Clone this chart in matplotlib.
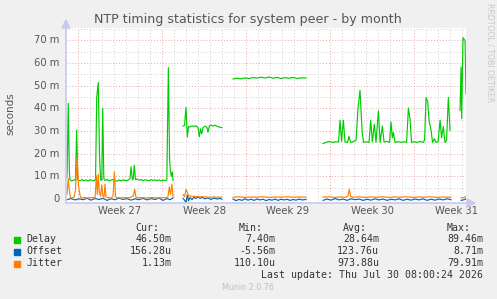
import numpy as np
import matplotlib
matplotlib.use('Agg')
import matplotlib.pyplot as plt
from matplotlib.patches import Polygon, Rectangle

# x values are days counted from the start (Monday) of week 27
# values are in milli-seconds; None marks a gap in the data

delay_x = [
    -0.92, -0.88, -0.81, -0.72, -0.67, -0.50, -0.33, -0.21, -0.11, -0.02,
    0.17, 0.33, 0.50, 0.67, 0.83, 1.00, 1.17, 1.33, 1.46, 1.56, 1.69, 1.79,
    1.88, 1.98, 2.06, 2.15, 2.25, 2.42, 2.58, 2.75, 2.92, 3.08, 3.25, 3.42,
    3.58, 3.75, 3.92, 4.08, 4.25, 4.33, 4.42, 4.53, 4.61, 4.69, 4.79, 4.92,
    5.08, 5.25, 5.42, 5.58, 5.75, 5.92, 6.08, 6.25, 6.42, 6.58, 6.75, 6.92,
    7.08, 7.25, 7.40, 7.53, 7.63, 7.69, 7.78, 7.86, 7.92, 8.3,
    8.75, 8.88, 9.00, 9.11, 9.21, 9.33, 9.50, 9.67, 9.83, 10.00, 10.11,
    10.21, 10.31, 10.42, 10.58, 10.75, 10.83, 10.96, 11.08, 11.25, 11.42,
    11.58, 11.75, 11.98, 12.4,
    12.92, 13.25, 13.58, 13.92, 14.25, 14.58, 14.92, 15.25, 15.58, 15.92,
    16.25, 16.58, 16.92, 17.25, 17.58, 17.92, 18.25, 18.58, 19.00, 19.7,
    20.42, 20.67, 20.92, 21.25, 21.50, 21.71, 21.83, 21.96, 22.11, 22.25,
    22.46, 22.58, 22.71, 22.92, 23.17, 23.33, 23.50, 23.67, 23.79, 24.00,
    24.25, 24.39, 24.53, 24.69, 24.83, 25.03, 25.17, 25.36, 25.50, 25.75,
    25.96, 26.08, 26.19, 26.28, 26.42, 26.67, 26.92, 27.17, 27.38, 27.53,
    27.67, 27.79, 28.00, 28.25, 28.50, 28.75, 28.88, 29.00, 29.14, 29.25,
    29.42, 29.54, 29.69, 29.83, 30.00, 30.17, 30.29, 30.44, 30.58, 30.71,
    30.86, 31.00, 31.4,
    31.83, 31.92, 31.97, 32.08, 32.25, 32.33,
]
delay_ms = [
    9.5, 20, 42.2, 12, 8.4, 8.0, 8.5, 8.2, 30.4, 8.5,
    8.0, 8.6, 8.1, 8.4, 7.9, 8.5, 8.2, 8.0, 8.6, 45, 51.4, 20,
    8.4, 8.3, 40, 9, 8.2, 8.6, 8.0, 8.3, 8.7, 8.2, 7.9, 8.4,
    8.0, 8.5, 8.2, 8.1, 8.6, 9, 14.2, 8.5, 9, 15, 8.6, 8.9,
    8.3, 8.6, 8.1, 8.5, 8.3, 8.0, 8.6, 8.2, 8.4, 8.1, 8.5, 8.0,
    8.3, 8.2, 8.4, 58, 18, 12.8, 10, 12, 8.2, None,
    32.2, 32.5, 40.4, 27.4, 32, 31.8, 32.3, 32.0, 32.4, 31.5, 27.5,
    31, 28.8, 31.5, 32.2, 31.6, 29.5, 32.5, 32.6, 32.2, 32.6,
    32.1, 31.8, 31.5, None,
    53.0, 53.3, 53.1, 53.5, 53.2, 53.6, 53.4, 53.8, 53.4, 53.9,
    53.3, 53.7, 53.2, 53.6, 53.3, 53.7, 53.2, 53.5, 53.4, None,
    24.5, 25.0, 25.4, 25.0, 25.3, 25.2, 34.8, 25.5, 34.8, 25.2,
    25.0, 27.7, 25.0, 25.3, 26, 40, 48, 30, 25.0, 25.3,
    25.0, 34.8, 25.2, 33, 25.0, 38.9, 25.0, 32.2, 25.2, 25.4,
    25.0, 34, 27, 29.4, 25.0, 25.3, 25.0, 25.3, 25.0, 40.2,
    35, 25.0, 25.3, 25.0, 25.4, 25.0, 26, 44.8, 42.9, 34.8,
    30.3, 25.0, 26.6, 25.0, 25.3, 34.8, 27, 32, 25.0, 26,
    44.8, 30.3, None,
    39, 58.3, 35.5, 71.2, 70, 46.5,
]

jitter_x = [
    -0.92, -0.81, -0.71, -0.62, -0.50, -0.33, -0.21, -0.08, 0.04, 0.17,
    0.25, 0.42, 0.58, 0.75, 0.92, 1.08, 1.25, 1.42, 1.53, 1.61, 1.69, 1.78,
    1.88, 1.98, 2.07, 2.17, 2.25, 2.33, 2.46, 2.63, 2.79, 2.92, 3.03, 3.13,
    3.25, 3.42, 3.58, 3.75, 3.92, 4.08, 4.25, 4.42, 4.63, 4.72, 4.83, 5.00,
    5.17, 5.33, 5.50, 5.67, 5.83, 6.00, 6.17, 6.33, 6.50, 6.67, 6.83, 7.00,
    7.17, 7.33, 7.50, 7.61, 7.71, 7.83, 7.92, 8.3,
    8.75, 8.88, 9.00, 9.11, 9.21, 9.33, 9.50, 9.67, 9.83, 10.00, 10.17,
    10.33, 10.50, 10.67, 10.83, 11.00, 11.17, 11.33, 11.50, 11.67, 11.83,
    11.98, 12.4,
    12.92, 13.42, 13.92, 14.42, 14.92, 15.42, 15.92, 16.42, 16.92, 17.42,
    17.92, 18.42, 19.00, 19.7,
    20.42, 20.92, 21.42, 21.92, 22.33, 22.50, 22.61, 22.71, 22.92, 23.42,
    23.92, 24.42, 24.92, 25.42, 25.92, 26.42, 26.92, 27.42, 27.92, 28.42,
    28.92, 29.42, 29.92, 30.42, 31.08, 31.5,
    31.92, 32.08, 32.25, 32.33,
]
jitter_ms = [
    2.0, 9.1, 3, 0.6, 0.5, 0.8, 4, 17.9, 6, 1.5,
    0.6, 0.5, 0.7, 0.4, 0.6, 0.5, 0.7, 0.5, 10.3, 2, 11, 3,
    1.2, 6.2, 1.5, 0.8, 6.6, 1, 0.5, 0.6, 0.4, 1.5, 12, 1,
    0.5, 0.6, 0.4, 0.7, 0.5, 0.6, 0.5, 0.8, 1.5, 4.4, 0.8, 0.5,
    0.7, 0.5, 0.6, 0.4, 0.6, 0.5, 0.7, 0.5, 0.6, 0.4, 0.6, 0.5,
    0.7, 0.5, 1.0, 5.4, 2.0, 6.5, 1.0, None,
    2.0, 1.0, 4.3, 3.0, 1.2, 1.5, 1.0, 1.3, 0.9, 1.2, 0.8,
    1.1, 0.9, 1.0, 0.7, 0.9, 0.8, 1.0, 0.7, 0.9, 0.8,
    0.9, None,
    0.8, 1.0, 0.7, 0.9, 0.8, 1.0, 0.7, 0.9, 0.8, 1.0,
    0.8, 0.9, 0.8, None,
    0.8, 1.0, 0.7, 0.9, 0.8, 1.5, 4.3, 1.2, 0.8, 1.0,
    0.7, 0.9, 0.8, 1.0, 0.7, 0.9, 0.8, 1.0, 0.7, 0.9,
    0.8, 1.0, 0.7, 0.9, 0.8, None,
    0.5, 0.6, 0.8, 1.13,
]

offset_x = [
    -0.92, -0.58, -0.25, 0.08, 0.42, 0.75, 1.08, 1.42, 1.75, 2.08, 2.42,
    2.75, 3.08, 3.42, 3.75, 4.08, 4.42, 4.75, 5.08, 5.42, 5.75, 6.08, 6.42,
    6.75, 7.08, 7.42, 7.67, 7.92, 8.3,
    8.75, 8.88, 9.00, 9.11, 9.21, 9.33, 9.50, 9.67, 9.83, 10.00, 10.17,
    10.33, 10.58, 10.83, 11.08, 11.33, 11.58, 11.83, 11.98, 12.4,
    12.92, 13.17, 13.42, 13.67, 13.92, 14.17, 14.42, 14.67, 14.92, 15.17,
    15.42, 15.67, 15.92, 16.17, 16.42, 16.67, 16.92, 17.17, 17.42, 17.67,
    17.92, 18.17, 18.42, 18.67, 19.00, 19.7,
    20.42, 20.75, 21.08, 21.42, 21.75, 22.08, 22.42, 22.75, 23.08, 23.42,
    23.75, 24.08, 24.42, 24.75, 25.08, 25.42, 25.75, 26.08, 26.42, 26.75,
    27.08, 27.42, 27.75, 28.08, 28.42, 28.75, 29.08, 29.42, 29.75, 30.08,
    30.42, 30.75, 31.08, 31.5,
    31.92, 32.08, 32.25, 32.33,
]
offset_ms = [
    -0.3, 0.2, -0.4, 0.1, -0.3, 0.3, -0.5, 0.2, -0.2, 0.3, -0.6,
    0.1, -0.3, 0.4, -0.2, 0.2, -0.5, 0.1, -0.3, 0.3, -0.4, 0.2, -0.2,
    0.4, -0.6, 0.2, -0.3, 0.5, None,
    0.3, -0.5, -1.6, 1.8, -0.8, 0.6, -0.3, 0.8, 0.2, 0.9, 0.3,
    0.7, 0.1, 0.5, -0.2, 0.4, 0.0, 0.3, -0.1, None,
    0.0, -0.7, -0.2, -0.6, 0.1, -0.5, -0.1, -0.6, 0.0, -0.4,
    -0.1, -0.7, -0.2, -0.5, 0.0, -0.6, -0.1, -0.4, -0.1, -0.6,
    -0.2, -0.5, 0.0, -0.4, -0.2, None,
    -0.6, 0.0, -0.5, 0.2, -0.4, 0.0, -0.6, 0.1, -0.3, 0.0,
    -0.6, -0.1, -0.5, 0.1, -0.4, 0.0, -0.6, -0.1, -0.4, 0.1,
    -0.6, -0.1, -0.5, 0.0, -0.4, 0.1, -0.6, -0.1, -0.5, 0.0,
    -0.4, 0.1, -0.3, None,
    -0.6, -0.4, -0.2, 0.16,
]

series_names = ['Delay', 'Offset', 'Jitter']
series_colors = ['#00CC00', '#0066B3', '#FF8000']
cur_vals = ['46.50m', '156.28u', '1.13m']
min_vals = ['7.40m', '-5.56m', '110.10u']
avg_vals = ['28.64m', '123.76u', '973.88u']
max_vals = ['89.46m', '8.71m', '79.91m']
week_labels = ['Week 27', 'Week 28', 'Week 29', 'Week 30', 'Week 31']
y_ticks = [0, 10, 20, 30, 40, 50, 60, 70]


def as_float(vals):
    return np.array([np.nan if v is None else v for v in vals], dtype=float)


W, H = 497, 299
fig = plt.figure(figsize=(W / 100, H / 100), dpi=100)
fig.patch.set_facecolor('#F0F0F0')

x0, x1 = -1.0, 32.33
y0, y1 = -1.76, 75.5
ax = fig.add_axes([66 / W, (H - 203) / H, 400 / W, (203 - 28) / H])
ax.set_facecolor('white')
ax.set_xlim(x0, x1)
ax.set_ylim(y0, y1)
for s in ax.spines.values():
    s.set_visible(False)
ax.set_xticks([])
ax.set_yticks([])

# grid: minor gray, major red (rrdtool style)
for v in range(5, 76, 10):
    ax.axhline(v, color='#D0D0D0', lw=0.7, ls=(0, (1, 2)), zorder=1)
for v in range(10, 76, 10):
    ax.axhline(v, color='#EDA8A8', lw=0.7, ls=(0, (1, 2)), zorder=1)
for d in range(0, 33):
    col = '#EDA8A8' if d % 7 == 0 else '#D0D0D0'
    ax.axvline(d, color=col, lw=0.7, ls=(0, (1, 2)), zorder=1)

ax.plot(as_float(delay_x), as_float(delay_ms), color=series_colors[0], lw=0.85, zorder=3)
ax.plot(as_float(offset_x), as_float(offset_ms), color=series_colors[1], lw=0.85, zorder=3)
ax.plot(as_float(jitter_x), as_float(jitter_ms), color=series_colors[2], lw=0.85, zorder=4)

# axes lines and arrows
axcol = '#C8C8F0'
ax.plot([x0, x1], [y0, y0], color=axcol, lw=1.2, clip_on=False, zorder=5)
ax.plot([x0, x0], [y0, y1], color=axcol, lw=1.2, clip_on=False, zorder=5)
fig.patches.append(Polygon([[62 / W, (H - 28) / H], [70 / W, (H - 28) / H], [66 / W, (H - 20) / H]],
                           closed=True, transform=fig.transFigure, color=axcol))
fig.patches.append(Polygon([[467 / W, (H - 199) / H], [467 / W, (H - 207) / H], [475 / W, (H - 203) / H]],
                           closed=True, transform=fig.transFigure, color=axcol))

txt = '#555555'
for v in y_ticks:
    lab = '0' if v == 0 else f'{v} m'
    ax.text(x0 - 0.55, v, lab, ha='right', va='center', fontsize=7.2, color=txt)
for i, lab in enumerate(week_labels):
    ax.text(3.5 + 7 * i, y0 - 1.5, lab, ha='center', va='top', fontsize=7.2, color=txt)

fig.text(248 / W, 1 - 19 / H, 'NTP timing statistics for system peer - by month',
         ha='center', va='center', fontsize=9.1, color='#555555')
fig.text(10 / W, 1 - 114 / H, 'seconds', rotation=90, ha='center', va='center',
         fontsize=7.5, color=txt)
fig.text(490 / W, 1 - 53 / H, 'RRDTOOL / TOBI OETIKER', rotation=270, ha='center',
         va='center', fontsize=5.6, color='#C8C8C8')

# legend block
mono = dict(family='DejaVu Sans Mono', fontsize=7.1, color='#333333')
heads = [('Cur:', 159.5), ('Min:', 263), ('Avg:', 367), ('Max:', 470.5)]
for lab, xr in heads:
    fig.text(xr / W, 1 - 228 / H, lab, ha='right', va='center', **mono)
cols = [(cur_vals, 172), (min_vals, 275.5), (avg_vals, 379), (max_vals, 483)]
for i, name in enumerate(series_names):
    yy = 239.5 + 12 * i
    fig.patches.append(Rectangle((14 / W, 1 - (yy + 3) / H), 6 / W, 6 / H,
                                 transform=fig.transFigure, color=series_colors[i]))
    fig.text(26 / W, 1 - yy / H, name, ha='left', va='center', **mono)
    for vals, xr in cols:
        fig.text(xr / W, 1 - yy / H, vals[i], ha='right', va='center', **mono)
fig.text(483 / W, 1 - 275.5 / H, 'Last update: Thu Jul 30 08:00:24 2026',
         ha='right', va='center', **mono)
fig.text(248 / W, 1 - 288 / H, 'Munin 2.0.76', ha='center', va='center',
         fontsize=5.8, color='#C0C0C0')

fig.savefig('out.png', dpi=100, facecolor=fig.get_facecolor())
